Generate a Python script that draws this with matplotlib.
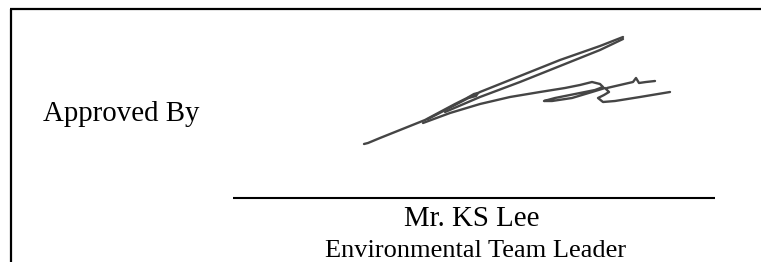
import matplotlib.pyplot as plt

# sizes in pixels, figure drawn on a pixel grid (y goes down)
W, H = 761, 262

label_left = "Approved By"
signer_name = "Mr. KS Lee"
signer_title = "Environmental Team Leader"

# signature strokes, traced in pixel coordinates
tail_x = [364, 368, 380, 395, 410, 425, 440, 455, 467, 474, 478, 476, 468]
tail_y = [144, 143, 138, 132, 126, 120, 112, 104, 98, 94, 93, 96, 98]

upper_x = [428, 480, 520, 560, 600, 623]
upper_y = [119, 92, 76, 60, 46, 37]

back_x = [623, 600, 560, 520, 480, 445]
back_y = [39, 50, 66, 82, 97, 112]

lower_x = [423, 450, 480, 510, 540, 565, 580, 592, 600, 603, 595, 575, 555, 544, 552,
           572, 592, 605, 609, 604, 598, 603, 615, 640, 670]
lower_y = [123, 113, 104, 97, 92, 88, 85, 82, 84, 87, 90, 94, 98, 101, 101,
           98, 92, 88, 92, 95, 98, 102, 101, 97, 92]

hump_x = [607, 620, 633, 636, 639, 646, 655]
hump_y = [88, 85, 82, 78, 83, 82, 81]

fig = plt.figure(figsize=(W / 100, H / 100), dpi=100)
ax = fig.add_axes([0, 0, 1, 1])
ax.set_xlim(0, W)
ax.set_ylim(H, 0)
ax.axis("off")

# box edges (only top and left visible)
ax.plot([10, W], [9, 9], color="black", lw=1.6, solid_capstyle="butt")
ax.plot([11, 11], [9, H], color="black", lw=1.6, solid_capstyle="butt")

# signature line
ax.plot([233, 715], [198, 198], color="black", lw=1.5, solid_capstyle="butt")

for sx, sy in [(tail_x, tail_y), (upper_x, upper_y), (back_x, back_y),
               (lower_x, lower_y), (hump_x, hump_y)]:
    ax.plot(sx, sy, color="#454545", lw=1.7, solid_joinstyle="round",
            solid_capstyle="round")

serif = "Liberation Serif"
ax.text(43, 121, label_left, ha="left", va="baseline",
        family=serif, fontsize=20.8, color="black")
ax.text(472, 226, signer_name, ha="center", va="baseline",
        family=serif, fontsize=20.8, color="black")
ax.text(476, 257, signer_title, ha="center", va="baseline",
        family=serif, fontsize=19, color="black")

fig.savefig("out.png", dpi=100)
